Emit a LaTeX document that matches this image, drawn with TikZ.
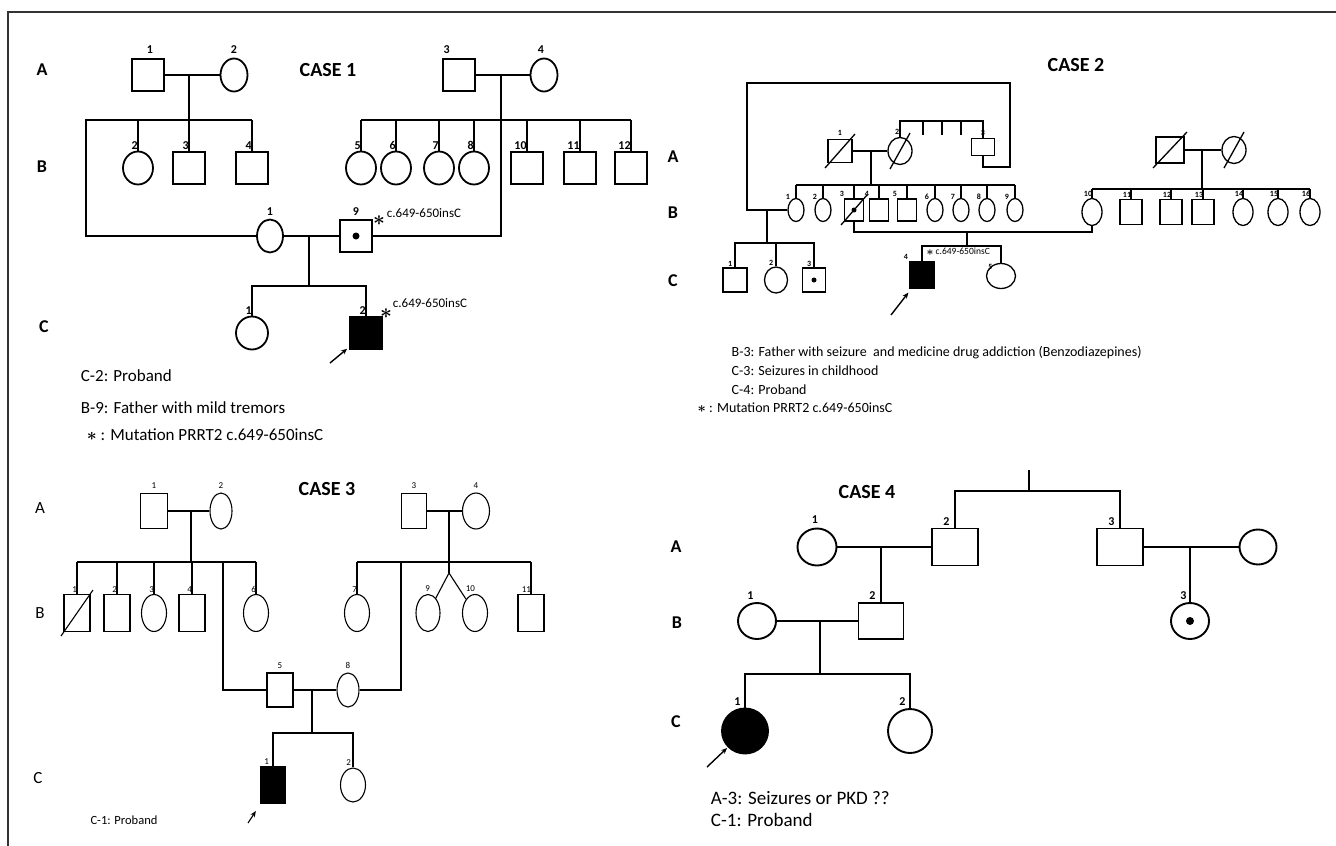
\documentclass[tikz,border=0pt]{standalone}
\usepackage{amsmath}
\usepackage{fontspec}
\setmainfont{Carlito}
\usetikzlibrary{arrows.meta,shapes.geometric}
\tikzset{
  mbox/.style={draw,rectangle,inner sep=0pt,fill=white},
  fcirc/.style={draw,ellipse,inner sep=0pt,fill=white},
  aff/.style={fill=black},
  num/.style={font=\bfseries\fontsize{12}{13}\selectfont,inner sep=0.5pt},
  rowlbl/.style={font=\bfseries\fontsize{18}{20}\selectfont},
  casettl/.style={font=\bfseries\fontsize{20}{22}\selectfont},
  note/.style={font=\fontsize{17}{19}\selectfont,anchor=west,inner sep=0pt},
  mutlbl/.style={font=\fontsize{13}{14}\selectfont,anchor=west,inner sep=0pt},
  star/.style={font=\fontsize{20}{20}\selectfont,inner sep=0pt},
  probarr/.style={-{Stealth[length=6pt,width=5pt]},line width=1.4pt,shorten >=2pt}
}
\newcommand{\dead}[3]{\draw ([shift={(-#2,#3)}]#1.center) -- ([shift={(#2,-#3)}]#1.center);}
\newcommand{\carrier}[2]{\fill (#1) circle (#2);}
\newcommand{\bstar}{$\boldsymbol{\ast}$}

\begin{document}
\begin{tikzpicture}[x=1pt,y=-1pt]
  \path[use as bounding box] (0,0) rectangle (1336,846);
  \coordinate (frbl) at (8,846);
  \coordinate (frtl) at (8,12);
  \coordinate (frtr) at (1336,12);
  \draw[line width=1.2pt,black!80] (frbl) -- (frtl) -- (frtr);

  % ---------------- CASE 1
  \begin{scope}[line width=1.8pt,
      sq/.style={mbox,minimum width=32pt,minimum height=32pt},
      ov/.style={fcirc,minimum width=30pt,minimum height=33pt}]
    \node[casettl] (c1ttl) at (328,70) {CASE 1};
    \node[rowlbl] (c1ra) at (42,70) {A};
    \node[rowlbl] (c1rb) at (42,167) {B};
    \node[rowlbl] (c1rc) at (44,327) {C};
    \node[sq] (c1a1) at (148,75) {};
    \node[ov,minimum width=27pt] (c1a2) at (234,75) {};
    \node[sq] (c1a3) at (459,75) {};
    \node[ov,minimum width=27pt] (c1a4) at (544,75) {};
    \draw (c1a1) -- (c1a2);
    \draw (c1a3) -- (c1a4);
    \node[num,anchor=south] (lb-c1a1) at ([xshift=2pt,yshift=3pt]c1a1.north) {1};
    \node[num,anchor=south] (lb-c1a2) at ([yshift=3pt]c1a2.north) {2};
    \node[num,anchor=south west] (lb-c1a3) at ([yshift=3pt]c1a3.north west) {3};
    \node[num,anchor=south] (lb-c1a4) at ([xshift=-3pt,yshift=3pt]c1a4.north) {4};
    \coordinate (c1m1) at (189,75);
    \coordinate (c1m2) at (501,75);
    \coordinate (c1s1) at (189,120);
    \coordinate (c1s2) at (501,120);
    \coordinate (c1lp) at (86,236);
    \draw (c1m1) -- (c1s1);
    \foreach \nm/\xx/\lb/\shp in {c1b2/138/2/ov,c1b3/189/3/sq,c1b4/252/4/sq}{
      \node[\shp] (\nm) at (\xx,168) {};
      \draw (\nm |- c1s1) -- (\nm);
      \node[num,anchor=south east] (lb-\nm) at ([xshift=1pt]\nm.north) {\lb};
    }
    \foreach \nm/\xx/\lb/\shp in {c1b5/361/5/ov,c1b6/396/6/ov,c1b7/439/7/ov,
        c1b8/474/8/ov,c1b10/527/10/sq,c1b11/580/11/sq,c1b12/631/12/sq}{
      \node[\shp] (\nm) at (\xx,168) {};
      \draw (\nm |- c1s2) -- (\nm);
      \node[num,anchor=south east] (lb-\nm) at ([xshift=1pt]\nm.north) {\lb};
    }
    % second row of generation B
    \node[ov,minimum width=26pt] (c1b1) at (270,236) {};
    \node[sq] (c1b9) at (356,236) {};
    \carrier{c1b9}{3.5pt}
    \node[num,anchor=south] (lb-c1b1) at ([yshift=2pt]c1b1.north) {1};
    \node[num,anchor=south] (lb-c1b9) at ([yshift=2pt]c1b9.north) {9};
    \draw (c1b4 |- c1s1) -- (c1lp |- c1s1) -- (c1lp) -- (c1b1);
    \draw (c1b5 |- c1s2) -- (c1b12 |- c1s2);
    \draw (c1m2) |- (c1b9);
    \draw (c1b1) -- (c1b9);
    \node[star] (c1st1) at (379,221) {\bstar};
    \node[mutlbl] (c1mt1) at (386,213) {c.649-650insC};
    % generation C
    \coordinate (c1m3) at (309,236);
    \coordinate (c1s3) at (309,286);
    \draw (c1m3) -- (c1s3);
    \node[ov,minimum width=32pt] (c1c1) at (252,333) {};
    \node[sq,aff,minimum width=33pt,minimum height=33pt] (c1c2) at (366,333) {};
    \draw (c1c1) |- (c1s3) -| (c1c2);
    \node[num,anchor=south east] (lb-c1c1) at ([xshift=1pt]c1c1.north) {1};
    \node[num,anchor=south east] (lb-c1c2) at ([xshift=1pt]c1c2.north) {2};
    \node[star] (c1st2) at (386,314) {\bstar};
    \node[mutlbl] (c1mt2) at (392,303) {c.649-650insC};
    \coordinate (c1arr) at (330,363);
    \draw[probarr] (c1arr) -- (c1c2);
    \node[note] (c1n1) at (80,376) {C-2: Proband};
    \node[note] (c1n2) at (80,408) {B-9: Father with mild tremors};
    \node[note] (c1n3) at (86,435) {\bstar\ : Mutation PRRT2 c.649-650insC};
  \end{scope}

  % ---------------- CASE 2
  \begin{scope}[line width=1.3pt,
      num/.style={font=\bfseries\fontsize{8}{9}\selectfont,inner sep=0.3pt},
      note/.style={font=\fontsize{14}{16}\selectfont,anchor=west,inner sep=0pt},
      sq/.style={mbox,minimum width=19pt,minimum height=22pt},
      ov/.style={fcirc,minimum width=16pt,minimum height=23pt},
      rsq/.style={mbox,minimum width=22pt,minimum height=25pt},
      rov/.style={fcirc,minimum width=20pt,minimum height=27pt}]
    \node[casettl] (c2ttl) at (1076,65) {CASE 2};
    \node[rowlbl] (c2ra) at (673,157) {A};
    \node[rowlbl] (c2rb) at (673,213) {B};
    \node[rowlbl] (c2rc) at (673,281) {C};
    \node[mbox,minimum width=24pt,minimum height=23pt] (c2a1) at (840,151) {};
    \node[fcirc,minimum width=24pt,minimum height=27pt] (c2a2) at (900,151) {};
    \node[mbox,minimum width=23pt,minimum height=17pt] (c2a3) at (983,147) {};
    \dead{c2a1}{15}{17}
    \dead{c2a2}{10}{18}
    \draw (c2a1) -- (c2a2);
    \node[num,anchor=south] (lb-c2a1) at ([yshift=2pt]c2a1.north) {1};
    \node[num,anchor=south east] (lb-c2a2) at ([yshift=1pt]c2a2.north) {2};
    \node[num,anchor=south] (lb-c2a3) at ([yshift=1pt]c2a3.north) {3};
    \coordinate (c2tk) at (942,121);
    \draw (c2a2) |- (c2tk) -| (c2a3);
    \foreach \dx in {-19,0,19}{
      \draw ([xshift=\dx pt]c2tk) -- ++(0,14);
    }
    % loop from A-3 to B-1
    \coordinate (c2l1) at (1010,167);
    \coordinate (c2l2) at (1010,83);
    \coordinate (c2l3) at (747,83);
    \coordinate (c2l4) at (747,210);
    % generation B, left family
    \coordinate (c2m1) at (871,151);
    \coordinate (c2s1) at (871,185);
    \draw (c2m1) -- (c2s1);
    \foreach \nm/\xx/\lb/\shp in {c2b1/796/1/ov,c2b2/823/2/ov,c2b3/854/3/sq,
        c2b4/879/4/sq,c2b5/907/5/sq,c2b6/935/6/ov,c2b7/961/7/ov,
        c2b8/987/8/ov,c2b9/1015/9/ov}{
      \node[\shp] (\nm) at (\xx,210) {};
      \draw (\nm |- c2s1) -- (\nm);
      \node[num,anchor=south east] (lb-\nm) at ([xshift=1pt,yshift=1pt]\nm.north west) {\lb};
    }
    \draw (c2b1 |- c2s1) -- (c2b9 |- c2s1);
    \dead{c2b3}{13}{15}
    \carrier{c2b3}{2.5pt}
    \draw (c2a3) |- (c2l1) -- (c2l2) -- (c2l3) -- (c2l4) -- (c2b1);
    % generation A and B, right family
    \node[mbox,minimum width=28pt,minimum height=26pt] (c2ra1) at (1170,150) {};
    \node[fcirc,minimum width=24pt,minimum height=27pt] (c2ra2) at (1234,150) {};
    \dead{c2ra1}{17}{18}
    \dead{c2ra2}{10}{18}
    \draw (c2ra1) -- (c2ra2);
    \coordinate (c2m3) at (1202,150);
    \coordinate (c2s3) at (1202,189);
    \draw (c2m3) -- (c2s3);
    \foreach \nm/\xx/\lb/\shp in {c2b10/1092/10/rov,c2b11/1131/11/rsq,
        c2b12/1171/12/rsq,c2b13/1203/13/rsq,c2b14/1243/14/rov,
        c2b15/1278/15/rov,c2b16/1310/16/rov}{
      \node[\shp] (\nm) at (\xx,212) {};
      \draw (\nm |- c2s3) -- (\nm);
      \node[num,anchor=south east] (lb-\nm) at ([xshift=1pt]\nm.north) {\lb};
    }
    \draw (c2b10 |- c2s3) -- (c2b16 |- c2s3);
    % generation C
    \coordinate (c2m2) at (767,210);
    \coordinate (c2s2) at (767,243);
    \draw (c2m2) -- (c2s2);
    \node[mbox,minimum width=24pt,minimum height=24pt] (c2c1) at (735,280) {};
    \node[fcirc,minimum width=23pt,minimum height=26pt] (c2c2) at (776,280) {};
    \node[mbox,minimum width=23pt,minimum height=24pt] (c2c3) at (814,280) {};
    \carrier{c2c3}{2.5pt}
    \draw (c2c1) |- (c2s2) -| (c2c3);
    \draw (c2c2 |- c2s2) -- (c2c2);
    \foreach \nm/\lb in {c2c1/1,c2c2/2,c2c3/3}{
      \node[num,anchor=south east] (lb-\nm) at ([xshift=-2pt]\nm.north) {\lb};
    }
    \coordinate (c2m4) at (967,232);
    \coordinate (c2s4) at (967,246);
    \draw (c2b3) |- (c2m4) -| (c2b10);
    \draw (c2m4) -- (c2s4);
    \node[mbox,aff,minimum width=25pt,minimum height=26pt] (c2c4) at (922,275) {};
    \node[fcirc,minimum width=29pt,minimum height=25pt] (c2c5) at (1001,276) {};
    \draw (c2c4) |- (c2s4) -| (c2c5);
    \node[num,anchor=south east] (lb-c2c4) at ([yshift=1pt]c2c4.north west) {4};
    \node[num,anchor=east] (lb-c2c5) at ([xshift=3pt]c2c5.north west) {5};
    \node[star,font=\fontsize{12}{12}\selectfont] (c2st) at (930,253) {\bstar};
    \node[mutlbl,font=\fontsize{9.5}{10}\selectfont] (c2mt) at (935,251) {c.649-650insC};
    \coordinate (c2arr) at (891,315);
    \draw[probarr,shorten >=5pt] (c2arr) -- (c2c4);
    \node[note] (c2n1) at (731,353) {B-3: Father with seizure\ \ and medicine drug addiction (Benzodiazepines)};
    \node[note] (c2n2) at (731,371) {C-3: Seizures in childhood};
    \node[note] (c2n3) at (731,390) {C-4: Proband};
    \node[note] (c2n4) at (697,408) {\bstar\ : Mutation PRRT2 c.649-650insC};
  \end{scope}

  % ---------------- CASE 3
  \begin{scope}[line width=1.1pt,
      num/.style={font=\fontsize{9}{10}\selectfont,inner sep=0.5pt},
      rowlbl/.style={font=\fontsize{17}{19}\selectfont},
      sq/.style={mbox,minimum width=26pt,minimum height=37pt},
      ov/.style={fcirc,minimum width=25pt,minimum height=37pt}]
    \node[casettl] (c3ttl) at (327,489) {CASE 3};
    \node[rowlbl] (c3ra) at (40,508) {A};
    \node[rowlbl] (c3rb) at (40,613) {B};
    \node[rowlbl] (c3rc) at (38,778) {C};
    \node[mbox,minimum width=27pt,minimum height=35pt] (c3a1) at (154,511) {};
    \node[fcirc,minimum width=22pt,minimum height=36pt] (c3a2) at (221,511) {};
    \node[mbox,minimum width=25pt,minimum height=35pt] (c3a3) at (414,511) {};
    \node[fcirc,minimum width=27pt,minimum height=36pt] (c3a4) at (476,511) {};
    \draw (c3a1) -- (c3a2);
    \draw (c3a3) -- (c3a4);
    \foreach \nm/\lb in {c3a1/1,c3a2/2,c3a3/3,c3a4/4}{
      \node[num,anchor=south] (lb-\nm) at ([yshift=3pt]\nm.north) {\lb};
    }
    \coordinate (c3m1) at (191,511);
    \coordinate (c3s1) at (191,562);
    \coordinate (c3m2) at (449,511);
    \coordinate (c3s2) at (449,562);
    \draw (c3m1) -- (c3s1);
    \draw (c3m2) -- (c3s2);
    \foreach \nm/\xx/\lb/\shp in {c3b1/77/1/sq,c3b2/117/2/sq,c3b3/154/3/ov,
        c3b4/192/4/sq,c3b6/256/6/ov}{
      \node[\shp] (\nm) at (\xx,613) {};
      \draw (\nm |- c3s1) -- (\nm);
      \node[num,anchor=south east] (lb-\nm) at ([xshift=1pt]\nm.north) {\lb};
    }
    \foreach \nm/\xx/\lb/\shp in {c3b7/357/7/ov,c3b11/531/11/sq}{
      \node[\shp] (\nm) at (\xx,613) {};
      \draw (\nm |- c3s2) -- (\nm);
      \node[num,anchor=south east] (lb-\nm) at ([xshift=1pt]\nm.north) {\lb};
    }
    \dead{c3b1}{16}{23}
    \draw (c3b1 |- c3s1) -- (c3b6 |- c3s1);
    \draw (c3b7 |- c3s2) -- (c3b11 |- c3s2);
    % twins
    \node[fcirc,minimum width=24pt,minimum height=37pt] (c3b9) at (428,613) {};
    \node[ov] (c3b10) at (475,613) {};
    \coordinate (c3tw) at (449,573);
    \draw (c3s2) -- (c3tw);
    \draw (c3b9) -- (c3tw) -- (c3b10);
    \node[num,anchor=south east] (lb-c3b9) at ([xshift=3pt,yshift=1pt]c3b9.north) {9};
    \node[num,anchor=south east] (lb-c3b10) at ([xshift=1pt,yshift=1pt]c3b10.north) {10};
    % couple B-5 x B-8
    \node[mbox,minimum width=26pt,minimum height=34pt] (c3b5) at (280,690) {};
    \node[fcirc,minimum width=22pt,minimum height=34pt] (c3b8) at (348,690) {};
    \node[num,anchor=south] (lb-c3b5) at ([yshift=3pt]c3b5.north) {5};
    \node[num,anchor=south] (lb-c3b8) at ([yshift=3pt]c3b8.north) {8};
    \coordinate (c3k1) at (223,562);
    \coordinate (c3k2) at (401,562);
    \draw (c3k1) |- (c3b5);
    \draw (c3k2) |- (c3b8);
    \draw (c3b5) -- (c3b8);
    \coordinate (c3m3) at (312,690);
    \coordinate (c3s3) at (312,733);
    \draw (c3m3) -- (c3s3);
    \node[mbox,aff,minimum width=24pt,minimum height=36pt] (c3c1) at (273,785) {};
    \node[fcirc,minimum width=25pt,minimum height=34pt] (c3c2) at (353,785) {};
    \draw (c3c1) |- (c3s3) -| (c3c2);
    \node[num,anchor=south east] (lb-c3c1) at ([xshift=-3pt,yshift=1pt]c3c1.north) {1};
    \node[num,anchor=south east] (lb-c3c2) at ([xshift=-1pt,yshift=1pt]c3c2.north) {2};
    \coordinate (c3arr) at (248,823);
    \draw[probarr,line width=1.1pt,shorten >=9pt] (c3arr) -- (c3c1);
    \node[note,font=\fontsize{12.5}{14}\selectfont] (c3n1) at (90,820) {C-1: Proband};
  \end{scope}

  % ---------------- CASE 4
  \begin{scope}[line width=1.9pt]
    \node[casettl] (c4ttl) at (867,492) {CASE 4};
    \node[rowlbl] (c4ra) at (676,547) {A};
    \node[rowlbl] (c4rb) at (677,623) {B};
    \node[rowlbl] (c4rc) at (676,722) {C};
    \node[fcirc,minimum width=39pt,minimum height=37pt] (c4a1) at (817,547) {};
    \node[mbox,minimum width=46pt,minimum height=37pt] (c4a2) at (955,547) {};
    \node[mbox,minimum width=46pt,minimum height=37pt] (c4a3) at (1120,547) {};
    \node[fcirc,minimum width=37pt,minimum height=35pt] (c4a4) at (1258,547) {};
    \coordinate (c4top) at (1029,470);
    \coordinate (c4s0) at (1029,491);
    \draw (c4top) -- (c4s0);
    \draw (c4a2) |- (c4s0) -| (c4a3);
    \draw (c4a1) -- (c4a2);
    \draw (c4a3) -- (c4a4);
    \node[num,anchor=south] (lb-c4a1) at ([xshift=-2pt,yshift=3pt]c4a1.north) {1};
    \node[num,anchor=south east] (lb-c4a2) at ([xshift=-4pt,yshift=1pt]c4a2.north) {2};
    \node[num,anchor=south east] (lb-c4a3) at ([xshift=-4pt,yshift=1pt]c4a3.north) {3};
    \coordinate (c4m1) at (881,547);
    \coordinate (c4m3) at (1190,547);
    \node[fcirc,minimum width=38pt,minimum height=36pt] (c4b1) at (757,621) {};
    \node[mbox,minimum width=45pt,minimum height=36pt] (c4b2) at (881,621) {};
    \node[fcirc,minimum width=38pt,minimum height=36pt] (c4b3) at (1190,621) {};
    \carrier{c4b3}{4pt}
    \draw (c4m1) -- (c4b2);
    \draw (c4m3) -- (c4b3);
    \draw (c4b1) -- (c4b2);
    \node[num,anchor=south east] (lb-c4b1) at ([xshift=-2pt,yshift=1pt]c4b1.north) {1};
    \node[num,anchor=south east] (lb-c4b2) at ([xshift=-4pt,yshift=1pt]c4b2.north) {2};
    \node[num,anchor=south east] (lb-c4b3) at ([xshift=-2pt,yshift=1pt]c4b3.north) {3};
    \coordinate (c4m2) at (820,621);
    \coordinate (c4s2) at (820,674);
    \draw (c4m2) -- (c4s2);
    \node[fcirc,aff,minimum width=46pt,minimum height=45pt] (c4c1) at (745,731) {};
    \node[fcirc,minimum width=44pt,minimum height=44pt] (c4c2) at (910,731) {};
    \draw (c4c1) |- (c4s2) -| (c4c2);
    \node[num,anchor=south east] (lb-c4c1) at ([xshift=-3pt,yshift=1pt]c4c1.north) {1};
    \node[num,anchor=south east] (lb-c4c2) at ([xshift=-3pt,yshift=1pt]c4c2.north) {2};
    \coordinate (c4arr) at (707,767);
    \draw[probarr,shorten >=1pt] (c4arr) -- (c4c1);
    \node[note,font=\fontsize{19}{21}\selectfont] (c4n1) at (710,798) {A-3: Seizures or PKD ??};
    \node[note,font=\fontsize{19}{21}\selectfont] (c4n2) at (710,820) {C-1: Proband};
  \end{scope}
\end{tikzpicture}
\end{document}
